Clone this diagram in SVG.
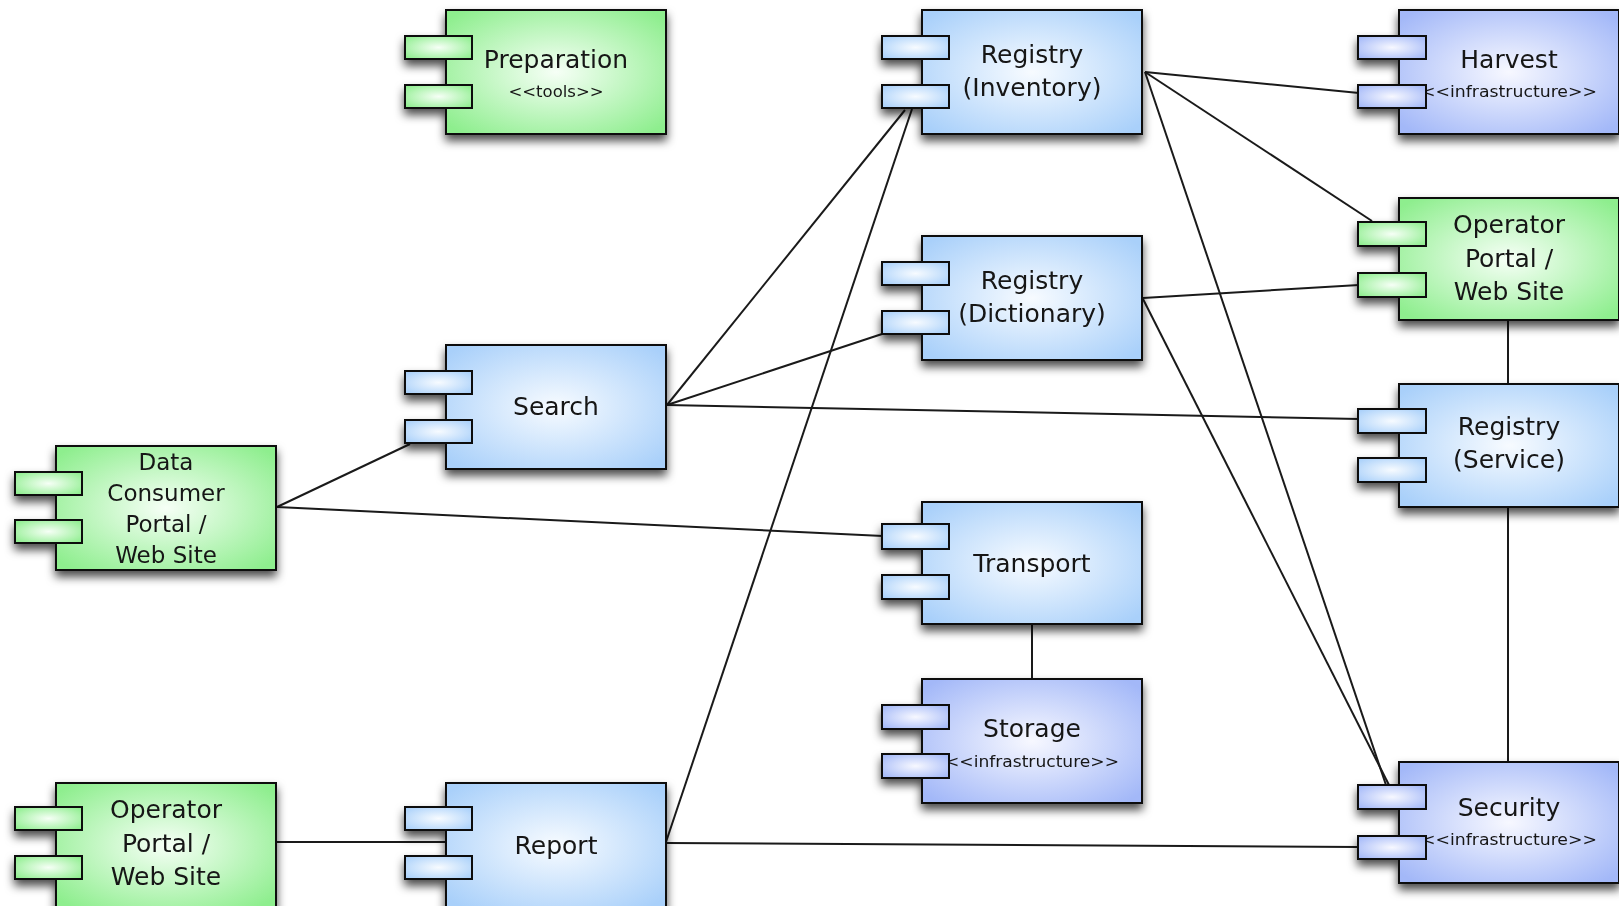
<svg xmlns="http://www.w3.org/2000/svg" width="1619" height="906" viewBox="0 0 1619 906">
<defs>
<radialGradient id="gG" cx="50%" cy="50%" r="65%">
<stop offset="0" stop-color="#f6fff6"/>
<stop offset="1" stop-color="#8eee8e"/>
</radialGradient>
<radialGradient id="gB" cx="50%" cy="50%" r="65%">
<stop offset="0" stop-color="#f7fbff"/>
<stop offset="1" stop-color="#a9d0fa"/>
</radialGradient>
<radialGradient id="gI" cx="50%" cy="50%" r="65%">
<stop offset="0" stop-color="#f7f8ff"/>
<stop offset="1" stop-color="#a3b8f8"/>
</radialGradient>
<filter id="sh" x="-20%" y="-20%" width="140%" height="150%">
<feDropShadow dx="0" dy="6" stdDeviation="5" flood-color="#000" flood-opacity="0.7"/>
</filter>
<style>
.box,.port{stroke:#111;stroke-width:2}
.green .box,.green .port{fill:url(#gG)}
.blue .box,.blue .port{fill:url(#gB)}
.infra .box,.infra .port{fill:url(#gI)}
.node{filter:url(#sh)}
text{font-family:"DejaVu Sans","Liberation Sans",sans-serif;fill:#151515;text-anchor:middle}
.t{font-size:25px}
.t2{font-size:23px}
.s{font-size:16.5px}
.conn line{stroke:#1a1a1a;stroke-width:2;fill:none}
</style>
</defs>
<rect width="1619" height="906" fill="#fff"/>

<g id="connectors" class="conn">
<line x1="667" y1="405" x2="905" y2="110"/>
<line x1="666" y1="842" x2="912" y2="109"/>
<line x1="1145" y1="72" x2="1359" y2="93"/>
<line x1="1145" y1="72" x2="1372" y2="221"/>
<line x1="1145" y1="72" x2="1386" y2="785"/>
<line x1="1143" y1="298" x2="1359" y2="285"/>
<line x1="1143" y1="299" x2="1389" y2="785"/>
<line x1="667" y1="405" x2="882" y2="334"/>
<line x1="667" y1="405" x2="1359" y2="419"/>
<line x1="277" y1="507" x2="410" y2="444"/>
<line x1="277" y1="507" x2="883" y2="536"/>
<line x1="1032" y1="624" x2="1032" y2="679"/>
<line x1="1508" y1="320" x2="1508" y2="384"/>
<line x1="1508" y1="507" x2="1508" y2="762"/>
<line x1="666" y1="843" x2="1359" y2="847"/>
<line x1="276" y1="842" x2="446" y2="842"/>
</g>

<g id="preparation" class="node green">
<rect class="box" x="446" y="10" width="220" height="124"/>
<text class="t" x="556" y="68">Preparation</text>
<text class="s" x="556" y="97">&lt;&lt;tools&gt;&gt;</text>
<rect class="port" x="405" y="36" width="67" height="23"/>
<rect class="port" x="405" y="85" width="67" height="23"/>
</g>

<g id="registry-inventory" class="node blue">
<rect class="box" x="922" y="10" width="220" height="124"/>
<text class="t" x="1032" y="63">Registry</text>
<text class="t" x="1032" y="96">(Inventory)</text>
<rect class="port" x="882" y="36" width="67" height="23"/>
<rect class="port" x="882" y="85" width="67" height="23"/>
</g>

<g id="harvest" class="node infra">
<rect class="box" x="1399" y="10" width="220" height="124"/>
<text class="t" x="1509" y="68">Harvest</text>
<text class="s" x="1509" y="97" textLength="176" lengthAdjust="spacingAndGlyphs">&lt;&lt;infrastructure&gt;&gt;</text>
<rect class="port" x="1358" y="36" width="68" height="23"/>
<rect class="port" x="1358" y="85" width="68" height="23"/>
</g>

<g id="registry-dictionary" class="node blue">
<rect class="box" x="922" y="236" width="220" height="124"/>
<text class="t" x="1032" y="289">Registry</text>
<text class="t" x="1032" y="322">(Dictionary)</text>
<rect class="port" x="882" y="262" width="67" height="23"/>
<rect class="port" x="882" y="311" width="67" height="23"/>
</g>

<g id="operator-portal-right" class="node green">
<rect class="box" x="1399" y="198" width="220" height="122"/>
<text class="t" x="1509" y="233">Operator</text>
<text class="t" x="1509" y="267">Portal /</text>
<text class="t" x="1509" y="300">Web Site</text>
<rect class="port" x="1358" y="222" width="68" height="24"/>
<rect class="port" x="1358" y="273" width="68" height="24"/>
</g>

<g id="search" class="node blue">
<rect class="box" x="446" y="345" width="220" height="124"/>
<text class="t" x="556" y="415">Search</text>
<rect class="port" x="405" y="371" width="67" height="23"/>
<rect class="port" x="405" y="420" width="67" height="23"/>
</g>

<g id="registry-service" class="node blue">
<rect class="box" x="1399" y="384" width="220" height="123"/>
<text class="t" x="1509" y="435">Registry</text>
<text class="t" x="1509" y="468">(Service)</text>
<rect class="port" x="1358" y="409" width="68" height="24"/>
<rect class="port" x="1358" y="458" width="68" height="24"/>
</g>

<g id="data-consumer" class="node green">
<rect class="box" x="56" y="446" width="220" height="124"/>
<text class="t2" x="166" y="470">Data</text>
<text class="t2" x="166" y="501">Consumer</text>
<text class="t2" x="166" y="532">Portal /</text>
<text class="t2" x="166" y="563">Web Site</text>
<rect class="port" x="15" y="472" width="67" height="23"/>
<rect class="port" x="15" y="520" width="67" height="23"/>
</g>

<g id="transport" class="node blue">
<rect class="box" x="922" y="502" width="220" height="122"/>
<text class="t" x="1032" y="572">Transport</text>
<rect class="port" x="882" y="524" width="67" height="25"/>
<rect class="port" x="882" y="575" width="67" height="24"/>
</g>

<g id="storage" class="node infra">
<rect class="box" x="922" y="679" width="220" height="124"/>
<text class="t" x="1032" y="737">Storage</text>
<text class="s" x="1032" y="767" textLength="174" lengthAdjust="spacingAndGlyphs">&lt;&lt;infrastructure&gt;&gt;</text>
<rect class="port" x="882" y="705" width="67" height="24"/>
<rect class="port" x="882" y="754" width="67" height="24"/>
</g>

<g id="security" class="node infra">
<rect class="box" x="1399" y="762" width="220" height="121"/>
<text class="t" x="1509" y="816">Security</text>
<text class="s" x="1509" y="845" textLength="176" lengthAdjust="spacingAndGlyphs">&lt;&lt;infrastructure&gt;&gt;</text>
<rect class="port" x="1358" y="785" width="68" height="24"/>
<rect class="port" x="1358" y="836" width="68" height="23"/>
</g>

<g id="operator-portal-left" class="node green">
<rect class="box" x="56" y="783" width="220" height="125"/>
<text class="t" x="166" y="818">Operator</text>
<text class="t" x="166" y="852">Portal /</text>
<text class="t" x="166" y="885">Web Site</text>
<rect class="port" x="15" y="807" width="67" height="23"/>
<rect class="port" x="15" y="856" width="67" height="23"/>
</g>

<g id="report" class="node blue">
<rect class="box" x="446" y="783" width="220" height="125"/>
<text class="t" x="556" y="854">Report</text>
<rect class="port" x="405" y="807" width="67" height="23"/>
<rect class="port" x="405" y="856" width="67" height="23"/>
</g>
</svg>
